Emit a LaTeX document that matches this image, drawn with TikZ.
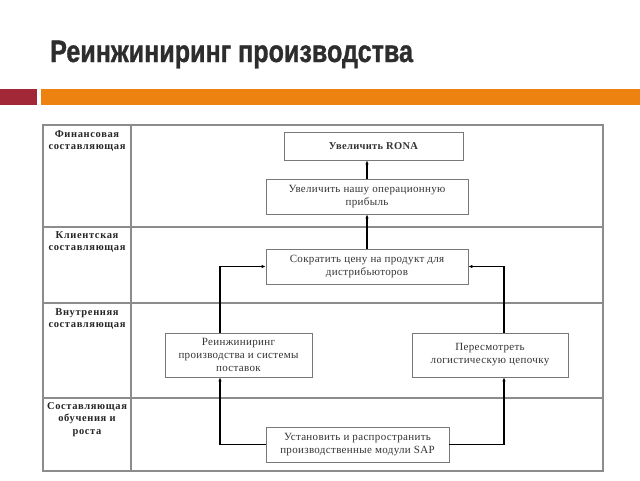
\documentclass[tikz,border=0pt]{standalone}
\usepackage{fontspec}
\usepackage{graphicx}
\setmainfont{Liberation Serif}
\newfontfamily\titlefont[FakeBold=1.2]{Liberation Sans}
\newfontfamily\lblfont[LetterSpace=6]{Liberation Serif}
\newfontfamily\boxfont[LetterSpace=3]{Liberation Serif}
\usetikzlibrary{positioning,arrows.meta}
\definecolor{barred}{RGB}{162,40,56}
\definecolor{barorange}{RGB}{238,130,16}
\definecolor{titlegray}{RGB}{45,45,45}
\definecolor{gridgray}{RGB}{140,140,140}
\definecolor{boxgray}{RGB}{120,120,120}

\begin{document}
\begin{tikzpicture}[x=1pt,y=-1pt,
	lane/.style={draw=gridgray,line width=1.2pt},
	lanelabel/.style={anchor=north,align=center,inner sep=0pt,font=\lblfont\bfseries\fontsize{10.5}{12.5}\selectfont,text=black!85},
	goal/.style={draw=boxgray,line width=0.8pt,align=center,inner sep=2pt,font=\boxfont\fontsize{11}{13}\selectfont,text=black!80},
	link/.style={line width=1.1pt,-{Latex[length=4pt,width=3.5pt]}}]
	\useasboundingbox (0,0) rectangle (640,480);
	% header
	\node[anchor=base west,inner sep=0pt,text=titlegray] (title) at (50,62)
		{\scalebox{0.81}[1]{\titlefont\bfseries\fontsize{31}{32}\selectfont Реинжиниринг производства}};
	\fill[barred] (0,89) rectangle (37,105);
	\fill[barorange] (41,89) rectangle (640,105);
	% table
	\draw[lane] (43,125) rectangle (603,471);
	\draw[lane] (131,125) -- (131,471);
	\foreach \y in {227,303,398}
		\draw[lane] (43,\y) -- (603,\y);
	\node[lanelabel] (fin) at (87,130) {Финансовая\\составляющая};
	\node[lanelabel] (client) at (87,231) {Клиентская\\составляющая};
	\node[lanelabel] (internal) at (87,308) {Внутренняя\\составляющая};
	\node[lanelabel] (learn) at (87,402) {Составляющая\\обучения и\\роста};
	% goals
	\node[goal,minimum width=179pt,minimum height=28pt,font=\boxfont\bfseries\fontsize{10.5}{13}\selectfont] (rona) at (373.5,146) {Увеличить RONA};
	\node[goal,minimum width=202pt,minimum height=35pt] (profit) at (367,196.5) {Увеличить нашу операционную\\прибыль};
	\node[goal,minimum width=202pt,minimum height=35pt] (price) at (367,266.5) {Сократить цену на продукт для\\дистрибьюторов};
	\node[goal,minimum width=147pt,minimum height=44pt] (reeng) at (238.5,355) {Реинжиниринг\\производства и системы\\поставок};
	\node[goal,minimum width=156pt,minimum height=44pt] (logist) at (490,355) {Пересмотреть\\логистическую цепочку};
	\node[goal,minimum width=183pt,minimum height=35pt] (sap) at (357.5,444.5) {Установить и распространить\\производственные модули SAP};
	% links
	\draw[link] (profit.north) -- (profit.north |- rona.south);
	\draw[link] (price.north) -- (profit.south);
	\draw[link] ([xshift=-18.5pt]reeng.north) |- (price.west);
	\draw[link] ([xshift=14pt]logist.north) |- (price.east);
	\draw[link] (sap.west) -| ([xshift=-18.5pt]reeng.south);
	\draw[link] (sap.east) -| ([xshift=14pt]logist.south);
\end{tikzpicture}
\end{document}
